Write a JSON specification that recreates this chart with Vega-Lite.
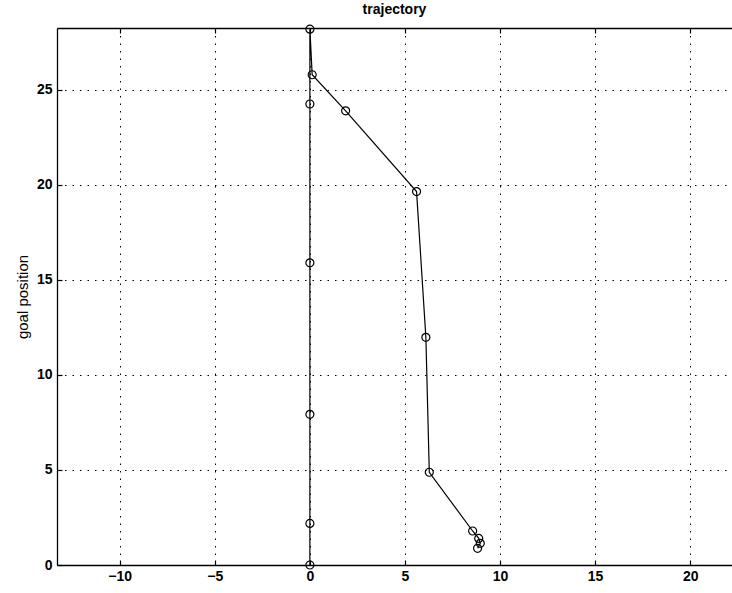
{
  "$schema": "https://vega.github.io/schema/vega-lite/v6.json",
  "width": 675,
  "height": 537,
  "autosize": {"type": "none"},
  "padding": {"left": 57, "top": 28, "right": 0, "bottom": 28},
  "background": "white",
  "title": {
    "text": "trajectory",
    "font": "Liberation Sans",
    "fontSize": 14,
    "fontWeight": "bold",
    "color": "black",
    "anchor": "middle",
    "offset": 6
  },
  "config": {
    "view": {"stroke": null},
    "axis": {
      "domainColor": "black",
      "domainWidth": 1.3,
      "tickColor": "black",
      "tickWidth": 1.2,
      "tickSize": -5,
      "gridColor": "black",
      "gridDash": [1.5, 6],
      "gridWidth": 1,
      "gridOpacity": 1,
      "labelFont": "Liberation Sans",
      "labelFontSize": 14,
      "labelFontWeight": "bold",
      "labelColor": "black",
      "titleFont": "Liberation Sans",
      "titleFontSize": 15,
      "titleFontWeight": "normal",
      "titleColor": "black"
    }
  },
  "data": {
    "values": [
      {"step": 1, "x": 0, "y": 0},
      {"step": 2, "x": 0, "y": 2.19},
      {"step": 3, "x": 0, "y": 7.93},
      {"step": 4, "x": 0, "y": 15.9},
      {"step": 5, "x": 0, "y": 24.26},
      {"step": 6, "x": 0, "y": 28.2},
      {"step": 7, "x": 0.12, "y": 25.8},
      {"step": 8, "x": 1.88, "y": 23.9},
      {"step": 9, "x": 5.61, "y": 19.65},
      {"step": 10, "x": 6.1, "y": 11.98},
      {"step": 11, "x": 6.28, "y": 4.88},
      {"step": 12, "x": 8.56, "y": 1.79},
      {"step": 13, "x": 8.88, "y": 1.4},
      {"step": 14, "x": 8.96, "y": 1.14},
      {"step": 15, "x": 8.82, "y": 0.88}
    ]
  },
  "resolve": {"axis": {"x": "independent"}},
  "layer": [
    {
      "mark": {"type": "line", "color": "black", "strokeWidth": 1.2},
      "encoding": {
        "x": {
          "field": "x", "type": "quantitative",
          "scale": {"domain": [-13.3, 22.2], "nice": false, "zero": false},
          "axis": {"title": null, "values": [-10, -5, 0, 5, 10, 15, 20], "labelPadding": 9}
        },
        "y": {
          "field": "y", "type": "quantitative",
          "scale": {"domain": [0, 28.26], "nice": false, "zero": false},
          "axis": {"title": "goal position", "values": [0, 5, 10, 15, 20, 25], "labelPadding": 10, "titlePadding": 6}
        },
        "order": {"field": "step", "type": "quantitative"}
      }
    },
    {
      "mark": {"type": "point", "shape": "circle", "filled": false, "color": "black", "size": 64, "strokeWidth": 1.2, "opacity": 1},
      "encoding": {
        "x": {
          "field": "x", "type": "quantitative",
          "axis": {"orient": "top", "title": null, "labels": false, "grid": false, "values": [-10, -5, 0, 5, 10, 15, 20]}
        },
        "y": {"field": "y", "type": "quantitative"}
      }
    }
  ]
}
